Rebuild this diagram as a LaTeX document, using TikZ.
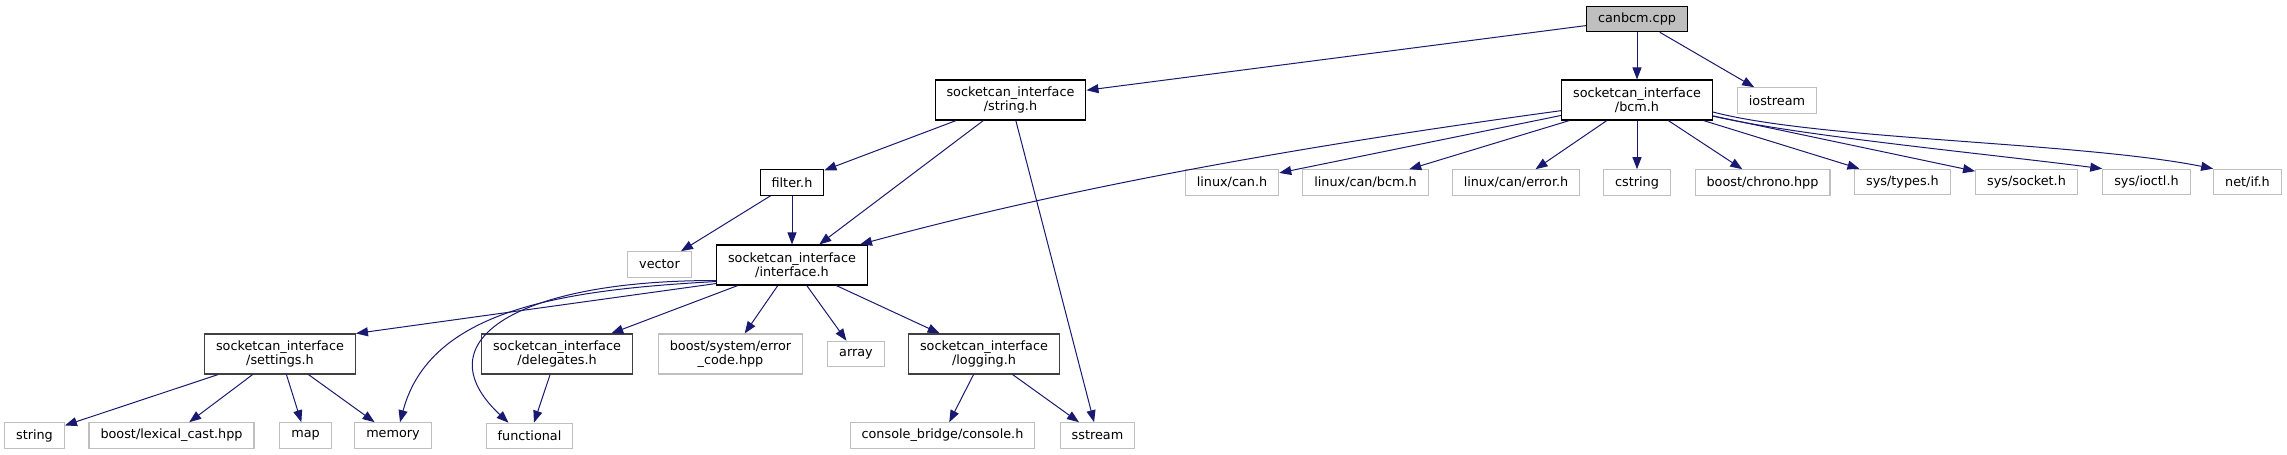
\documentclass[tikz,border=0pt]{standalone}
\usepackage{fontspec}
\setmainfont{DejaVu Sans}
\usetikzlibrary {arrows.meta}
\definecolor{midnight}{HTML}{191970}
\definecolor{greyl}{HTML}{BFBFBF}
\definecolor{greyd}{HTML}{404040}

\begin{document}
\begin{tikzpicture}[
		x=1pt,y=-1pt,
		box/.style={
			draw=black,line width=1.1pt,fill=white,
			inner xsep=11.5pt,inner ysep=0pt,minimum height=25.5pt,
			align=center,font=\fontsize{12.8}{14.5}\selectfont
		},
		root/.style={box,fill=greyl},
		hdr/.style={box,minimum height=40pt},
		hdrd/.style={hdr,draw=greyd},
		sys/.style={box,draw=greyl},
		sysd/.style={sys,minimum height=40pt},
		dep/.style={-{Triangle[length=12pt,width=9pt]},draw=midnight,fill=none,line width=1pt}
	]
	\useasboundingbox (0,0) rectangle (2287,455);

	\node[root] (canbcm) at (1637,19) {canbcm.cpp};

	\node[hdr] (strh) at (1010.5,100) {socketcan\_interface\\/string.h};
	\node[hdr] (bcmh) at (1637,100) {socketcan\_interface\\/bcm.h};
	\node[sys] (iostr) at (1777,100.5) {iostream};

	\node[hdr,minimum height=25.5pt] (filt) at (792,182.5) {filter.h};
	\node[sys] (lcan) at (1232,182.5) {linux/can.h};
	\node[sys] (lcanbcm) at (1365.5,182.5) {linux/can/bcm.h};
	\node[sys] (lcanerr) at (1516,182.5) {linux/can/error.h};
	\node[sys] (cstr) at (1637,182.5) {cstring};
	\node[sys] (chrono) at (1762.5,182.5) {boost/chrono.hpp};
	\node[sys] (stypes) at (1902.5,182) {sys/types.h};
	\node[sys] (ssock) at (2026.5,182) {sys/socket.h};
	\node[sys] (sioctl) at (2146.5,182) {sys/ioctl.h};
	\node[sys] (netif) at (2247.5,182) {net/if.h};

	\node[sys] (vect) at (659.5,264.5) {vector};
	\node[hdr] (iface) at (792,265) {socketcan\_interface\\/interface.h};

	\node[hdrd] (sett) at (280,354) {socketcan\_interface\\/settings.h};
	\node[hdrd] (deleg) at (557,354) {socketcan\_interface\\/delegates.h};
	\node[sysd] (errc) at (730.5,354) {boost/system/error\\\_code.hpp};
	\node[sys] (arr) at (856,354) {array};
	\node[hdrd] (logg) at (984,354) {socketcan\_interface\\/logging.h};

	\node[sys] (strg) at (34.5,435.5) {string};
	\node[sys] (lexc) at (171.5,435.5) {boost/lexical\_cast.hpp};
	\node[sys] (mapp) at (305.5,435.5) {map};
	\node[sys] (mem) at (393,435.5) {memory};
	\node[sys] (func) at (529.5,436) {functional};
	\node[sys] (cons) at (942.5,435.5) {console\_bridge/console.h};
	\node[sys] (sstr) at (1097.5,435.5) {sstream};

	\draw[dep] (canbcm) -- (strh);
	\draw[dep] (canbcm) -- (bcmh);
	\draw[dep] (canbcm) -- (iostr);

	\draw[dep] (strh) -- (filt);
	\draw[dep] (strh) -- (iface);
	\draw[dep] (strh) -- (sstr);

	\draw[dep] (bcmh.188) .. controls (1331,142) and (1090,182) .. ([xshift=-8pt]iface.north east);
	\draw[dep] (bcmh) -- (lcan);
	\draw[dep] (bcmh) -- (lcanbcm);
	\draw[dep] (bcmh) -- (lcanerr);
	\draw[dep] (bcmh) -- (cstr);
	\draw[dep] (bcmh) -- (chrono);
	\draw[dep] (bcmh) -- (stypes);
	\draw[dep] (bcmh) -- (ssock);
	\draw[dep] (bcmh.-12) .. controls (1800,136) and (1980,153) .. (sioctl.north west);
	\draw[dep] (bcmh.-9) .. controls (1820,140) and (2080,142) .. (netif.north west);

	\draw[dep] (filt) -- (vect);
	\draw[dep] (filt) -- (iface);

	\draw[dep] ([yshift=2pt]iface.south west) -- (sett.north east);
	\draw[dep] ([yshift=4pt]iface.south west) .. controls (560,290) and (430,310) .. ([xshift=7pt]mem.north);
	\draw[dep] ([yshift=5pt]iface.south west) .. controls (520,280) and (420,340) .. ([xshift=-21pt]func.north);
	\draw[dep] (iface) -- (deleg);
	\draw[dep] (iface) -- (errc);
	\draw[dep] (iface) -- (arr);
	\draw[dep] (iface) -- (logg);

	\draw[dep] (sett) -- (strg);
	\draw[dep] (sett) -- (lexc);
	\draw[dep] (sett) -- (mapp);
	\draw[dep] (sett) -- (mem);

	\draw[dep] (deleg) -- (func);

	\draw[dep] (logg) -- (cons);
	\draw[dep] (logg) -- (sstr);
\end{tikzpicture}
\end{document}
